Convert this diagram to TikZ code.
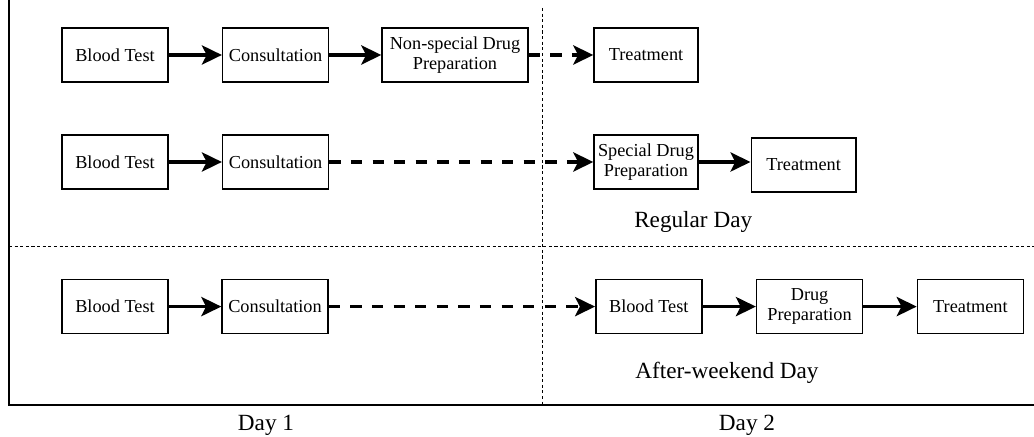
\documentclass[tikz,border=0pt]{standalone}
\usepackage{fontspec}
\setmainfont{Liberation Serif}
\usetikzlibrary{arrows.meta}

\begin{document}
\begin{tikzpicture}[
		box/.style={draw, line width=1pt, align=center, minimum width=2.65cm, minimum height=1.35cm, inner sep=1pt, font=\fontsize{13}{14.5}\selectfont},
		flow/.style={-{Stealth[length=0.5cm, width=0.48cm, inset=0.12cm]}, line width=2.4pt},
		later/.style={flow, dash pattern=on 0.28cm off 0.26cm},
		divider/.style={line width=0.6pt, dash pattern=on 2.2pt off 1.8pt},
		daylabel/.style={font=\fontsize{16.5}{19}\selectfont}
	]
	\useasboundingbox (0,0) rectangle (25.85,10.925);

	% frame and dividers
	\coordinate (topleft) at (0.225,10.925);
	\coordinate (corner) at (0.225,0.8);
	\coordinate (bottomright) at (25.85,0.8);
	\draw[line width=1pt] (topleft) -- (corner) -- (bottomright);
	\coordinate (daytop) at (13.55,10.725);
	\coordinate (daybottom) at (13.55,0.8);
	\draw[divider] (daytop) -- (daybottom);
	\coordinate (rowleft) at (0.225,4.775);
	\coordinate (rowright) at (25.85,4.775);
	\draw[divider] (rowleft) -- (rowright);

	% regular day, non-special drug
	\node[box] (bt1) at (2.875,9.55) {Blood Test};
	\node[box] (co1) at (6.89,9.55) {Consultation};
	\node[box, minimum width=3.65cm] (np1) at (11.375,9.55) {Non-special Drug\\Preparation};
	\node[box, minimum width=2.6cm] (tr1) at (16.15,9.55) {Treatment};
	\draw[flow] (bt1) -- (co1);
	\draw[flow] (co1) -- (np1);
	\draw[later] (np1) -- (tr1);

	% regular day, special drug
	\node[box] (bt2) at (2.875,6.875) {Blood Test};
	\node[box] (co2) at (6.89,6.875) {Consultation};
	\node[box, minimum width=2.6cm] (sp2) at (16.15,6.875) {Special Drug\\Preparation};
	\node[box, minimum width=2.62cm] (tr2) at (20.09,6.8) {Treatment};
	\draw[flow] (bt2) -- (co2);
	\draw[later] (co2) -- (sp2);
	\draw[flow] (sp2.east) -- (sp2.east -| tr2.west);
	\node[daylabel] (regular) at (17.33,5.375) {Regular Day};

	% after-weekend day
	\node[box] (bt3) at (2.875,3.26) {Blood Test};
	\node[box] (co3) at (6.875,3.26) {Consultation};
	\node[box] (bt4) at (16.22,3.26) {Blood Test};
	\node[box] (dp4) at (20.24,3.26) {Drug\\Preparation};
	\node[box] (tr4) at (24.26,3.26) {Treatment};
	\draw[flow] (bt3) -- (co3);
	\draw[later] (co3) -- (bt4);
	\draw[flow] (bt4) -- (dp4);
	\draw[flow] (dp4) -- (tr4);
	\node[daylabel] (weekend) at (18.175,1.6) {After-weekend Day};

	\node[daylabel] (day1) at (6.65,0.3) {Day 1};
	\node[daylabel] (day2) at (18.675,0.3) {Day 2};
\end{tikzpicture}
\end{document}
